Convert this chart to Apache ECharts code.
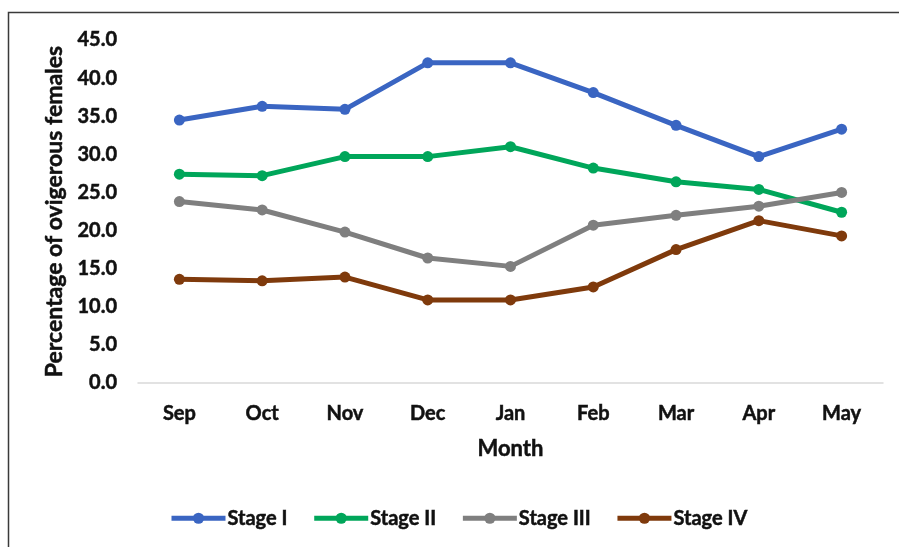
<!DOCTYPE html>
<html>
<head>
<meta charset="utf-8">
<script src="https://cdn.jsdelivr.net/npm/echarts@6/dist/echarts.min.js"></script>
<style>
  html, body { margin: 0; padding: 0; background: #fff; }
  #chart { width: 899px; height: 547px; }
</style>
</head>
<body>
<div id="chart"></div>
<script>
// Monthly share of ovigerous females by maturity stage
const months = ['Sep', 'Oct', 'Nov', 'Dec', 'Jan', 'Feb', 'Mar', 'Apr', 'May'];
const stageI   = [34.5, 36.3, 35.9, 42.0, 42.0, 38.1, 33.8, 29.7, 33.3];
const stageII  = [27.4, 27.2, 29.7, 29.7, 31.0, 28.2, 26.4, 25.4, 22.4];
const stageIII = [23.8, 22.7, 19.8, 16.4, 15.3, 20.7, 22.0, 23.2, 25.0];
const stageIV  = [13.6, 13.4, 13.9, 10.9, 10.9, 12.6, 17.5, 21.3, 19.3];
const yTicks = { min: 0, max: 45, interval: 5 };

const font = 'Lato, "Open Sans", "DejaVu Sans", sans-serif';
const ink = '#111';
// heavy bold text: a thin outline in the fill colour thickens the strokes
const heavy = { fontFamily: font, fontWeight: 'bold', color: ink, textBorderColor: ink, textBorderWidth: 0.5 };

function line(name, data, color) {
  return {
    name: name,
    type: 'line',
    data: data,
    symbol: 'circle',
    symbolSize: 11,
    lineStyle: { width: 5, color: color },
    itemStyle: { color: color },
    emphasis: { disabled: true }
  };
}

const chart = echarts.init(document.getElementById('chart'), null, { renderer: 'canvas' });
chart.setOption({
  animation: false,
  backgroundColor: '#fff',
  graphic: [{
    type: 'rect',
    shape: { x: 8.5, y: 12.5, width: 900, height: 600 },
    style: { fill: 'none', stroke: '#3a3a3a', lineWidth: 1.5 },
    silent: true
  }],
  grid: { left: 138, right: 16, top: 40, bottom: 164 },
  legend: {
    top: 503,
    left: 164,
    itemWidth: 54,
    itemHeight: 14,
    itemGap: 24,
    lineStyle: { width: 5 },
    textStyle: Object.assign({ fontSize: 20, padding: [0, 0, 0, -3] }, heavy),
    data: ['Stage I', 'Stage II', 'Stage III', 'Stage IV']
  },
  xAxis: {
    type: 'category',
    data: months,
    boundaryGap: true,
    name: 'Month',
    nameLocation: 'middle',
    nameGap: 55,
    nameTextStyle: Object.assign({ fontSize: 22 }, heavy),
    axisLine: { lineStyle: { color: '#d9d9d9', width: 1.5 } },
    axisTick: { show: false },
    axisLabel: Object.assign({ margin: 21, fontSize: 20 }, heavy)
  },
  yAxis: {
    type: 'value',
    min: yTicks.min,
    max: yTicks.max,
    interval: yTicks.interval,
    name: 'Percentage of ovigerous females',
    nameLocation: 'middle',
    nameGap: 67,
    nameTextStyle: Object.assign({ fontSize: 23 }, heavy),
    axisLine: { show: false },
    axisTick: { show: false },
    splitLine: { show: false },
    axisLabel: Object.assign({
      margin: 21,
      fontSize: 20,
      formatter: v => v.toFixed(1)
    }, heavy)
  },
  series: [
    line('Stage I', stageI, '#3a65c2'),
    line('Stage II', stageII, '#00a65a'),
    line('Stage III', stageIII, '#7f7f7f'),
    line('Stage IV', stageIV, '#7f3a0c')
  ]
});
</script>
</body>
</html>
